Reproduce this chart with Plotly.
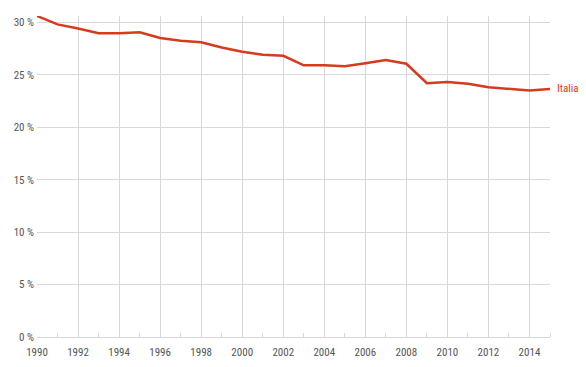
import plotly.graph_objects as go

years = list(range(1990, 2016))
italia = [30.6, 29.8, 29.4, 28.95, 28.95, 29.05, 28.5, 28.25, 28.1, 27.6,
          27.2, 26.9, 26.8, 25.9, 25.9, 25.8, 26.1, 26.4, 26.05, 24.2,
          24.3, 24.15, 23.8, 23.65, 23.5, 23.65]
series_name = "Italia"
y_ticks = [0, 5, 10, 15, 20, 25, 30]
y_labels = ["0 %", "5 %", "10 %", "15 %", "20 %", "25 %", "30 %"]
x_ticks = list(range(1990, 2015, 2))

RED = "#d53b1c"
GRID = "#d8d8d8"
FONT = "Liberation Sans Narrow, Roboto Condensed, Arial Narrow, sans-serif"

fig = go.Figure()
fig.add_trace(go.Scatter(x=years, y=italia, mode="lines", name=series_name,
                         line=dict(color=RED, width=2.5), hoverinfo="x+y"))

fig.add_annotation(x=years[-1], y=italia[-1], text=series_name, showarrow=False,
                   xanchor="left", yanchor="middle", xshift=5,
                   font=dict(color=RED, size=11, family=FONT))

# page body has an 8px default margin, so the figure is sized to fit the window
fig.update_layout(
    width=578, height=359,
    margin=dict(l=29, r=36, t=8, b=30, autoexpand=False),
    paper_bgcolor="white", plot_bgcolor="white",
    showlegend=False,
    font=dict(family=FONT, color="#555555", size=11),
)
fig.update_xaxes(range=[1990, 2015], tickvals=x_ticks, showgrid=True,
                 gridcolor=GRID, gridwidth=1, showline=True, linecolor=GRID,
                 zeroline=False, ticks="", ticklen=0, tickfont=dict(size=11),
                 ticklabelstandoff=5, automargin=False,
                 minor=dict(tickvals=list(range(1991, 2016, 2)), ticks="inside",
                            ticklen=4, tickcolor=GRID, showgrid=False))
fig.update_yaxes(range=[0, 30.6], tickvals=y_ticks, ticktext=y_labels,
                 showgrid=True, gridcolor=GRID, gridwidth=1, zeroline=False,
                 showline=False, ticks="", tickfont=dict(size=11),
                 ticklabelstandoff=2, automargin=False)

fig.write_html("out.html")
